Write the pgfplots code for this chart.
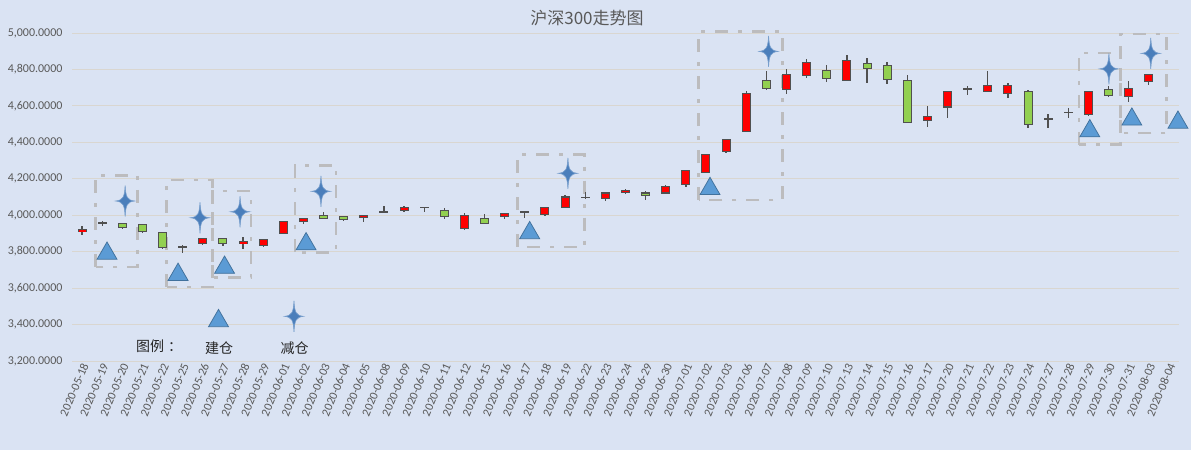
\documentclass[border=0pt]{standalone}
\usepackage{fontspec}
\setmainfont{Carlito}
\newfontfamily\cjk{Noto Sans CJK SC}
\usepackage{pgfplots}
\usepackage{pgfplotstable}
\pgfplotsset{compat=1.18}
\definecolor{bg}{RGB}{218,227,243}
\definecolor{gridc}{RGB}{217,214,208}
\definecolor{txt}{RGB}{89,89,89}
\definecolor{dk}{RGB}{80,80,80}
\definecolor{upred}{RGB}{255,0,0}
\definecolor{dngreen}{RGB}{146,208,80}
\definecolor{mblue}{RGB}{91,155,213}
\definecolor{mblued}{RGB}{65,113,156}
\definecolor{sblue}{RGB}{74,126,187}
\definecolor{boxc}{RGB}{188,188,190}

\pgfdeclareplotmark{sparkle}{%
 \pgfpathmoveto{\pgfqpoint{0pt}{15.5pt}}%
 \pgfpathcurveto{\pgfqpoint{0.6pt}{4pt}}{\pgfqpoint{2pt}{0.8pt}}{\pgfqpoint{9.5pt}{0pt}}%
 \pgfpathcurveto{\pgfqpoint{2pt}{-0.8pt}}{\pgfqpoint{0.6pt}{-4pt}}{\pgfqpoint{0pt}{-15.5pt}}%
 \pgfpathcurveto{\pgfqpoint{-0.6pt}{-4pt}}{\pgfqpoint{-2pt}{-0.8pt}}{\pgfqpoint{-9.5pt}{0pt}}%
 \pgfpathcurveto{\pgfqpoint{-2pt}{0.8pt}}{\pgfqpoint{-0.6pt}{4pt}}{\pgfqpoint{0pt}{15.5pt}}%
 \pgfpathclose
 \pgfusepathqfillstroke}

% up candles (close >= open): x o h l c
\pgfplotstableread{
x o h l c
0 3910 3943 3891 3921
1 3957 3966 3941 3961
6 3843 3872 3835 3871
8 3843 3882 3815 3856
9 3832 3866 3828 3865
10 3899 3971 3899 3967
11 3964 3987 3954 3982
14 3987 4000 3965 4000
15 4017 4048 4016 4020
16 4026 4052 4015 4044
19 3926 4011 3920 4000
21 3994 4011 3981 4011
23 4006 4044 3998 4044
24 4044 4111 4044 4100
25 4096 4128 4089 4099
26 4094 4123 4076 4122
27 4124 4143 4118 4137
29 4122 4167 4122 4156
30 4167 4245 4156 4244
31 4233 4335 4232 4333
32 4350 4418 4343 4417
33 4461 4680 4460 4667
35 4689 4800 4667 4772
36 4767 4857 4754 4839
38 4739 4878 4739 4850
42 4522 4600 4483 4544
43 4594 4678 4533 4678
44 4692 4711 4661 4694
45 4681 4789 4674 4711
46 4667 4728 4643 4711
48 4529 4555 4476 4531
49 4564 4587 4533 4566
50 4554 4678 4543 4678
52 4650 4737 4622 4694
53 4733 4772 4717 4772
}\uptab

% down candles (close < open)
\pgfplotstableread{
x o h l c
2 3954 3955 3923 3932
3 3949 3950 3902 3910
4 3904 3905 3813 3821
5 3826 3834 3795 3823
7 3871 3872 3830 3843
12 3999 4016 3982 3982
13 3994 3995 3966 3977
17 4044 4045 4020 4042
18 4028 4039 3978 3994
20 3983 4006 3955 3956
22 4018 4019 3987 4014
28 4122 4135 4083 4106
34 4739 4794 4687 4693
37 4794 4824 4733 4750
39 4833 4863 4728 4806
40 4822 4839 4722 4744
41 4739 4772 4511 4511
47 4678 4687 4476 4500
51 4689 4709 4648 4656
}\dntab

\begin{document}
\begin{tikzpicture}[x=1pt,y=1pt]
\fill[bg] (0,0) rectangle (1191,450);
\useasboundingbox (0,0) rectangle (1191,450);
\node[font=\cjk\fontsize{17}{20}\selectfont, text=txt] at (587,432) {沪深300走势图};
\begin{axis}[
  at={(72pt,89pt)}, anchor=south west,
  scale only axis, width=1107pt, height=328pt,
  xmin=-0.5, xmax=54.5, ymin=3200, ymax=5000,
  clip=false,
  axis lines*=left,
  y axis line style={draw=none},
  x axis line style={gridc, line width=0.8pt},
  ytick={3200,3400,...,5000},
  ymajorgrids,
  grid style={gridc, line width=0.8pt},
  ytick style={draw=none},
  yticklabel style={font=\fontsize{12}{14}\selectfont, text=txt, xshift=-6pt},
  /pgf/number format/.cd, fixed, fixed zerofill, precision=4, 1000 sep={,}, assume math mode=true,
  /pgfplots/.cd,
  xtick={0,...,54},
  xtick style={draw=none},
  xticklabels={2020-05-18,2020-05-19,2020-05-20,2020-05-21,2020-05-22,2020-05-25,2020-05-26,2020-05-27,2020-05-28,2020-05-29,2020-06-01,2020-06-02,2020-06-03,2020-06-04,2020-06-05,2020-06-08,2020-06-09,2020-06-10,2020-06-11,2020-06-12,2020-06-15,2020-06-16,2020-06-17,2020-06-18,2020-06-19,2020-06-22,2020-06-23,2020-06-24,2020-06-29,2020-06-30,2020-07-01,2020-07-02,2020-07-03,2020-07-06,2020-07-07,2020-07-08,2020-07-09,2020-07-10,2020-07-13,2020-07-14,2020-07-15,2020-07-16,2020-07-17,2020-07-20,2020-07-21,2020-07-22,2020-07-23,2020-07-24,2020-07-27,2020-07-28,2020-07-29,2020-07-30,2020-07-31,2020-08-03,2020-08-04},
  xticklabel style={font=\fontsize{12}{14}\selectfont, text=txt, rotate=67, anchor=east, yshift=-4pt, xshift=2pt},
  extra x ticks={-0.5,0.5,...,54.5},
  extra x tick labels={},
  extra x tick style={major tick length=4pt, tick align=outside, tick style={draw=gridc, line width=0.8pt}},
]
% dashed annotation boxes
\addplot[forget plot, draw=boxc, line width=2.6pt, dash pattern=on 13pt off 10pt on 4pt off 10pt] coordinates {(0.68,3716) (0.68,4219) (2.75,4219) (2.75,3716) (0.68,3716)};
\addplot[forget plot, draw=boxc, line width=2.6pt, dash pattern=on 13pt off 10pt on 4pt off 10pt] coordinates {(4.21,3606) (4.21,4193) (6.49,4193) (6.49,3606) (4.21,3606)};
\addplot[forget plot, draw=boxc, line width=2.6pt, dash pattern=on 13pt off 10pt on 4pt off 10pt] coordinates {(6.49,3657) (6.49,4133) (8.39,4133) (8.39,3657) (6.49,3657)};
\addplot[forget plot, draw=boxc, line width=2.6pt, dash pattern=on 13pt off 10pt on 4pt off 10pt] coordinates {(10.58,3797) (10.58,4274) (12.62,4274) (12.62,3797) (10.58,3797)};
\addplot[forget plot, draw=boxc, line width=2.6pt, dash pattern=on 13pt off 10pt on 4pt off 10pt] coordinates {(21.64,3826) (21.64,4333) (24.95,4333) (24.95,3826) (21.64,3826)};
\addplot[forget plot, draw=boxc, line width=2.6pt, dash pattern=on 13pt off 10pt on 4pt off 10pt] coordinates {(30.64,4083) (30.64,5009) (34.79,5009) (34.79,4083) (30.64,4083)};
\addplot[forget plot, draw=boxc, line width=2.6pt, dash pattern=on 13pt off 10pt on 4pt off 10pt] coordinates {(49.53,4388) (49.53,4890) (51.6,4890) (51.6,4388) (49.53,4388)};
\addplot[forget plot, draw=boxc, line width=2.6pt, dash pattern=on 13pt off 10pt on 4pt off 10pt] coordinates {(51.6,4452) (51.6,4995) (53.88,4995) (53.88,4452) (51.6,4452)};

% wicks
\addplot[forget plot, draw=none, mark=none, error bars/.cd, y dir=both, y explicit, error mark=none, error bar style={draw=dk, line width=1.3pt}]
  table[x=x, y expr={(\thisrow{h}+\thisrow{l})/2}, y error expr={(\thisrow{h}-\thisrow{l})/2}] {\uptab};
\addplot[forget plot, draw=none, mark=none, error bars/.cd, y dir=both, y explicit, error mark=none, error bar style={draw=dk, line width=1.3pt}]
  table[x=x, y expr={(\thisrow{h}+\thisrow{l})/2}, y error expr={(\thisrow{h}-\thisrow{l})/2}] {\dntab};
% body outlines
\addplot[forget plot, draw=none, mark=none, error bars/.cd, y dir=both, y explicit, error mark=none, error bar style={draw=dk, line width=9pt}]
  table[x=x, y expr={(\thisrow{o}+\thisrow{c})/2}, y error expr={abs(\thisrow{c}-\thisrow{o})/2+3}] {\uptab};
\addplot[forget plot, draw=none, mark=none, error bars/.cd, y dir=both, y explicit, error mark=none, error bar style={draw=dk, line width=9pt}]
  table[x=x, y expr={(\thisrow{o}+\thisrow{c})/2}, y error expr={abs(\thisrow{c}-\thisrow{o})/2+3}] {\dntab};
% body fills
\addplot[forget plot, draw=none, mark=none, error bars/.cd, y dir=both, y explicit, error mark=none, error bar style={draw=upred, line width=7pt}]
  table[x=x, y expr={(\thisrow{o}+\thisrow{c})/2}, y error expr={max(abs(\thisrow{c}-\thisrow{o})/2-3,0)}] {\uptab};
\addplot[forget plot, draw=none, mark=none, error bars/.cd, y dir=both, y explicit, error mark=none, error bar style={draw=dngreen, line width=7pt}]
  table[x=x, y expr={(\thisrow{o}+\thisrow{c})/2}, y error expr={max(abs(\thisrow{c}-\thisrow{o})/2-3,0)}] {\dntab};

% 建仓 triangles
\addplot[only marks, mark=triangle*, mark size=11.5pt, mark options={fill=mblue, draw=mblued, line width=0.75pt}]
  coordinates {(1.24,3790) (4.77,3674) (7.08,3713) (11.13,3842) (22.24,3903) (31.20,4145) (50.07,4462) (52.16,4526) (54.45,4509) (6.78,3420)};
% 减仓 stars
\addplot[only marks, mark=sparkle, mark options={fill=sblue, draw=sblue!75!white, line width=0.6pt}]
  coordinates {(2.14,4078) (5.86,3986) (7.85,4019) (11.87,4131) (24.14,4230) (34.11,4899) (51.02,4803) (53.10,4888) (10.53,3445)};

\node[font=\cjk\fontsize{14}{16}\selectfont, text=black!85] at (axis cs:3.83,3283) {图例\kern4pt ：};
\node[font=\cjk\fontsize{14}{16}\selectfont, text=black!85] at (axis cs:6.81,3272) {建仓};
\node[font=\cjk\fontsize{14}{16}\selectfont, text=black!85] at (axis cs:10.56,3272) {减仓};
\end{axis}
\end{tikzpicture}
\end{document}
